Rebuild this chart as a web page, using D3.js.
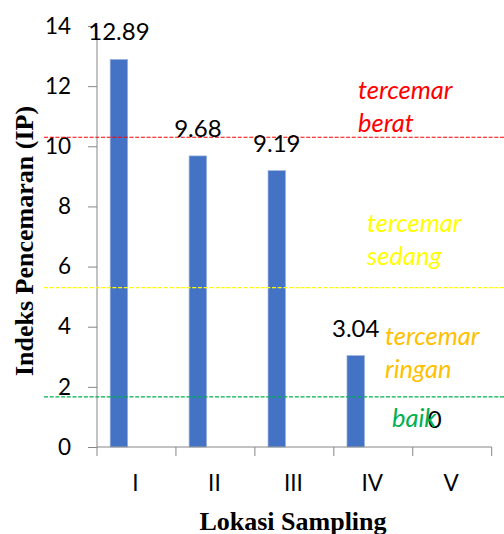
<!DOCTYPE html>
<html>
<head>
<meta charset="utf-8">
<script src="https://cdn.jsdelivr.net/npm/d3@7"></script>
<style>
  html, body { margin: 0; padding: 0; background: #fff; }
  svg { display: block; }
</style>
</head>
<body>
<svg id="chart" width="504" height="534"></svg>
<script>
// Sampling locations and pollution index (IP) per location
const locations = ["I", "II", "III", "IV", "V"];
const ipValues = [12.89, 9.68, 9.19, 3.04, 0];
const yTicks = [0, 2, 4, 6, 8, 10, 12, 14];

// Class boundaries drawn as dashed guides
const thresholdValues = [10.3, 5.3, 1.67];
const thresholdColors = ["#ff0000", "#ffff00", "#00b050"];

// Class labels (two lines each)
const classLines = [["tercemar", "berat"], ["tercemar", "sedang"], ["tercemar", "ringan"], ["baik"]];
const classColors = ["#ff0000", "#ffff00", "#ffc000", "#00b050"];

const svg = d3.select("#chart");
const W = 504, H = 534;
const plot = { left: 97, right: 491.7, top: 26, bottom: 447 };

const x = d3.scaleBand().domain(locations).range([plot.left, plot.right]).padding(0);
// three slots per category, only the first carries the bars
const slot = d3.scaleBand().domain([0, 1, 2]).range([0, x.bandwidth()])
  .paddingInner(0).paddingOuter(0.75);
const y = d3.scaleLinear().domain([0, 14]).range([plot.bottom, plot.top]);

const numFont = "Lato, 'Open Sans', sans-serif";
const axisColor = "#868686";

// Bars
svg.append("g").selectAll("rect").data(ipValues).join("rect")
  .attr("x", (d, i) => x(locations[i]) + slot(0))
  .attr("width", slot.bandwidth())
  .attr("y", d => y(d))
  .attr("height", d => y(0) - y(d))
  .attr("fill", "#4472c4")
  .attr("stroke", "#9fb6e0")
  .attr("stroke-width", 0.7);

// Y axis
const yAxis = svg.append("g").attr("transform", `translate(${plot.left},0)`)
  .call(d3.axisLeft(y).tickValues(yTicks).tickFormat(d3.format("d")).tickSize(9).tickPadding(17));
yAxis.select(".domain").attr("stroke", axisColor).attr("d", `M0,${plot.bottom}V${plot.top}`);
yAxis.selectAll(".tick line").attr("stroke", axisColor);
yAxis.selectAll(".tick text").attr("font-family", numFont).attr("font-size", 22.5).attr("fill", "#000");

// X axis
const xAxis = svg.append("g").attr("transform", `translate(0,${plot.bottom})`)
  .call(d3.axisBottom(x).tickSize(0).tickPadding(28));
xAxis.select(".domain").attr("stroke", axisColor).attr("d", `M${plot.left},0H${plot.right}`);
xAxis.selectAll(".tick text").attr("font-family", numFont).attr("font-size", 22.5).attr("fill", "#000")
  .attr("dx", -1);
// category boundary ticks
const bounds = locations.map(c => x(c)).concat([plot.right]);
xAxis.append("g").selectAll("line").data(bounds).join("line")
  .attr("x1", d => d).attr("x2", d => d).attr("y1", 0).attr("y2", 9)
  .attr("stroke", axisColor);

// Threshold dashed guides
svg.append("g").selectAll("line").data(thresholdValues).join("line")
  .attr("x1", 44).attr("x2", W)
  .attr("y1", d => y(d)).attr("y2", d => y(d))
  .attr("stroke", (d, i) => thresholdColors[i])
  .attr("stroke-width", 1.2)
  .attr("stroke-dasharray", "4,1.7");

// Value labels above bars
svg.append("g").selectAll("text").data(ipValues).join("text")
  .attr("x", (d, i) => x(locations[i]) + slot(0) + slot.bandwidth() / 2)
  .attr("y", d => y(d) - 19)
  .attr("text-anchor", "middle")
  .attr("font-family", numFont).attr("font-size", 24).attr("fill", "#000")
  .text(d => d === 0 ? "0" : d3.format(".2f")(d));

// Class labels
const classPos = [[358, 99], [367, 232], [385, 345], [392, 427]];
classLines.forEach((lines, i) => {
  const t = svg.append("text")
    .attr("font-family", numFont).attr("font-style", "italic").attr("font-size", 25.5)
    .attr("fill", classColors[i]);
  lines.forEach((s, j) => {
    t.append("tspan").attr("x", classPos[i][0]).attr("y", classPos[i][1] + j * 33).text(s);
  });
});

// Axis titles
svg.append("text")
  .attr("transform", `translate(33,241) rotate(-90)`)
  .attr("text-anchor", "middle")
  .attr("font-family", "'Liberation Serif', 'Times New Roman', serif")
  .attr("font-weight", "bold").attr("font-size", 26).attr("fill", "#000")
  .text("Indeks Pencemaran (IP)");
svg.append("text")
  .attr("x", 293).attr("y", 530)
  .attr("text-anchor", "middle")
  .attr("font-family", "'Liberation Serif', 'Times New Roman', serif")
  .attr("font-weight", "bold").attr("font-size", 26).attr("fill", "#000")
  .text("Lokasi Sampling");
</script>
</body>
</html>
